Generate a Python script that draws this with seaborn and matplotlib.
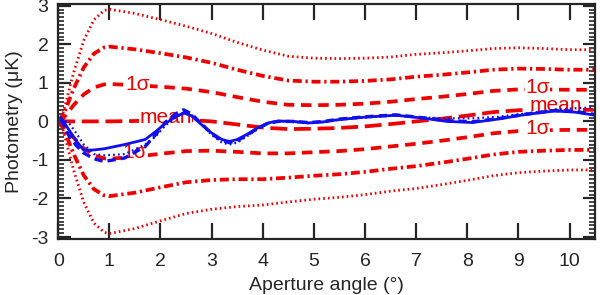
import numpy as np
import pandas as pd
import seaborn as sns
import matplotlib
matplotlib.use("Agg")
import matplotlib.pyplot as plt
from matplotlib.ticker import MultipleLocator

# ---------------- data ----------------
x_band = [0, 0.1, 0.2, 0.3, 0.5, 0.7, 0.9, 1.0, 1.5, 2, 2.5, 3, 3.5, 4, 4.5, 5,
          5.5, 6, 6.5, 7, 7.5, 8, 8.5, 9, 9.5, 10, 10.5]
mean_line = [0, 0, 0, 0, 0, 0, 0, 0, 0.01, 0.03, 0.04, 0.0, -0.08, -0.16, -0.2,
             -0.19, -0.17, -0.13, -0.07, 0.0, 0.07, 0.15, 0.24, 0.29, 0.3, 0.3, 0.3]
upper_1s = [0, .08, .25, .42, .70, .88, .96, .97, .94, .90, .85, .76, .63, .51, .43,
            .42, .43, .46, .51, .58, .64, .71, .79, .83, .83, .82, .82]
upper_2s = [0, .16, .5, .84, 1.4, 1.76, 1.92, 1.94, 1.87, 1.77, 1.66, 1.52, 1.34, 1.18,
            1.06, 1.03, 1.03, 1.05, 1.09, 1.16, 1.21, 1.27, 1.34, 1.37, 1.36, 1.34, 1.34]
upper_3s = [0, .24, .75, 1.26, 2.1, 2.64, 2.88, 2.91, 2.80, 2.64, 2.47, 2.28, 2.05, 1.85,
            1.69, 1.64, 1.63, 1.64, 1.67, 1.74, 1.78, 1.83, 1.89, 1.91, 1.89, 1.86, 1.86]
lower_1s = [0, -.08, -.25, -.42, -.70, -.88, -.96, -.97, -.92, -.84, -.77, -.76, -.79,
            -.83, -.83, -.80, -.77, -.72, -.65, -.58, -.50, -.41, -.31, -.25, -.23, -.22, -.22]
lower_2s = [0, -.16, -.5, -.84, -1.4, -1.76, -1.92, -1.94, -1.85, -1.71, -1.58, -1.52,
            -1.50, -1.50, -1.46, -1.41, -1.37, -1.31, -1.23, -1.16, -1.07, -0.97, -0.86,
            -0.79, -0.76, -0.74, -0.74]
lower_3s = [0, -.24, -.75, -1.26, -2.1, -2.64, -2.88, -2.91, -2.78, -2.58, -2.39, -2.28,
            -2.21, -2.17, -2.09, -2.02, -1.97, -1.90, -1.81, -1.74, -1.64, -1.53, -1.41,
            -1.33, -1.29, -1.26, -1.26]

x_data = [0.05, 0.2, 0.35, 0.5, 0.7, 0.9, 1.3, 1.7, 1.9, 2.1, 2.3, 2.45, 2.6, 2.8, 3.0,
          3.2, 3.35, 3.5, 3.7, 3.9, 4.1, 4.3, 4.6, 4.9, 5.2, 5.5, 6.0, 6.6, 7.1, 7.6,
          8.1, 8.6, 9.1, 9.7, 10.1, 10.5]
data_solid = [0.1, -0.2, -0.5, -0.75, -0.74, -0.71, -0.6, -0.47, -0.27, -0.05, 0.12,
              0.22, 0.15, -0.08, -0.3, -0.47, -0.52, -0.47, -0.33, -0.17, -0.04, 0.01,
              0.0, -0.04, -0.01, 0.05, 0.11, 0.16, 0.09, 0.0, -0.03, 0.06, 0.17, 0.27,
              0.24, 0.16]
data_dashed = [0.05, -0.35, -0.62, -0.82, -0.97, -1.04, -0.95, -0.65, -0.35, -0.02, 0.2,
               0.3, 0.2, -0.06, -0.32, -0.5, -0.55, -0.5, -0.35, -0.18, -0.05, 0.0,
               0.0, -0.03, 0.0, 0.06, 0.12, 0.17, 0.1, 0.02, -0.01, 0.07, 0.18, 0.28,
               0.26, 0.18]
data_dotted = [0.05, -0.02, -0.3, -0.6, -0.85, -0.88, -0.85, -0.6, -0.4, -0.1, 0.1,
               0.22, 0.18, -0.08, -0.35, -0.55, -0.6, -0.55, -0.38, -0.2, -0.06, 0.0,
               -0.02, -0.05, -0.02, 0.04, 0.1, 0.15, 0.1, 0.08, 0.08, 0.12, 0.2, 0.3,
               0.34, 0.37]

x_ticks = [0, 1, 2, 3, 4, 5, 6, 7, 8, 9, 10]
y_ticks = [-3, -2, -1, 0, 1, 2, 3]

# ---------------- style ----------------
sns.set_style("ticks")
plt.rcParams['font.family'] = ['Liberation Sans', 'DejaVu Sans']
plt.rcParams['axes.linewidth'] = 1.6

fig = plt.figure(figsize=(6.0, 2.95), dpi=100)
ax = fig.add_axes([0.097, 0.19, 0.895, 0.797])

RED = '#ee0000'
BLUE = '#1010ee'

band = pd.DataFrame({'x': x_band, 'mean': mean_line,
                     'u1': upper_1s, 'u2': upper_2s, 'u3': upper_3s,
                     'l1': lower_1s, 'l2': lower_2s, 'l3': lower_3s})
styles = {
    'u3': dict(lw=2.0, dashes=(0.6, 1.1)),
    'l3': dict(lw=2.0, dashes=(0.6, 1.1)),
    'u2': dict(lw=2.7, dashes=(2.4, 1.0, 0.6, 1.0)),
    'l2': dict(lw=2.7, dashes=(2.4, 1.0, 0.6, 1.0)),
    'u1': dict(lw=2.7, dashes=(2.8, 1.8)),
    'l1': dict(lw=2.7, dashes=(2.8, 1.8)),
    'mean': dict(lw=2.7, dashes=(4.5, 1.8)),
}
for col, st in styles.items():
    sns.lineplot(data=band, x='x', y=col, ax=ax, color=RED, lw=st['lw'],
                 estimator=None, sort=False, zorder=2)
    ax.lines[-1].set_dashes(st['dashes'])
    ax.lines[-1].set_dash_capstyle('butt')

blue = pd.DataFrame({'x': x_data, 's': data_solid, 'd': data_dashed, 'o': data_dotted})
sns.lineplot(data=blue, x='x', y='o', ax=ax, color=BLUE, lw=1.6, estimator=None,
             sort=False, zorder=4)
ax.lines[-1].set_dashes((0.8, 1.4))
sns.lineplot(data=blue, x='x', y='d', ax=ax, color=BLUE, lw=2.4, estimator=None,
             sort=False, zorder=4)
ax.lines[-1].set_dashes((2.5, 1.5))
sns.lineplot(data=blue, x='x', y='s', ax=ax, color=BLUE, lw=2.0, estimator=None,
             sort=False, zorder=5)

# labels on the curves
lab_kw = dict(color=RED, fontsize=15, ha='center', va='center', zorder=3,
              bbox=dict(facecolor='white', edgecolor='none', pad=0.5))
ax.text(1.55, 0.96, '1σ', **lab_kw)
ax.text(2.1, 0.1, 'mean', **lab_kw)
ax.text(1.5, -0.8, '1σ', **lab_kw)
ax.text(9.37, 0.88, '1σ', **lab_kw)
ax.text(9.73, 0.42, 'mean', **lab_kw)
ax.text(9.37, -0.19, '1σ', **lab_kw)

ax.set_xlim(0, 10.5)
ax.set_ylim(-3.05, 3.05)
ax.set_xticks(x_ticks)
ax.set_yticks(y_ticks)
ax.set_xticklabels([str(t) for t in x_ticks])
ax.set_yticklabels([str(t) for t in y_ticks])
ax.yaxis.set_minor_locator(MultipleLocator(0.1))
ax.tick_params(axis='x', which='major', direction='in', length=11.5, width=1.6,
               top=True, bottom=True, labelsize=14, pad=10)
ax.tick_params(axis='y', which='major', direction='in', length=9, width=1.6,
               left=True, right=True, labelsize=14, pad=7)
ax.tick_params(axis='y', which='minor', direction='in', length=4.5, width=1.2,
               left=True, right=True)
ax.set_xlabel('Aperture angle (°)', fontsize=14, labelpad=5)
ax.set_ylabel('Photometry (μK)', fontsize=14, labelpad=6)
for s in ax.spines.values():
    s.set_linewidth(1.6)
    s.set_zorder(6)

fig.savefig('out.png', dpi=100)
